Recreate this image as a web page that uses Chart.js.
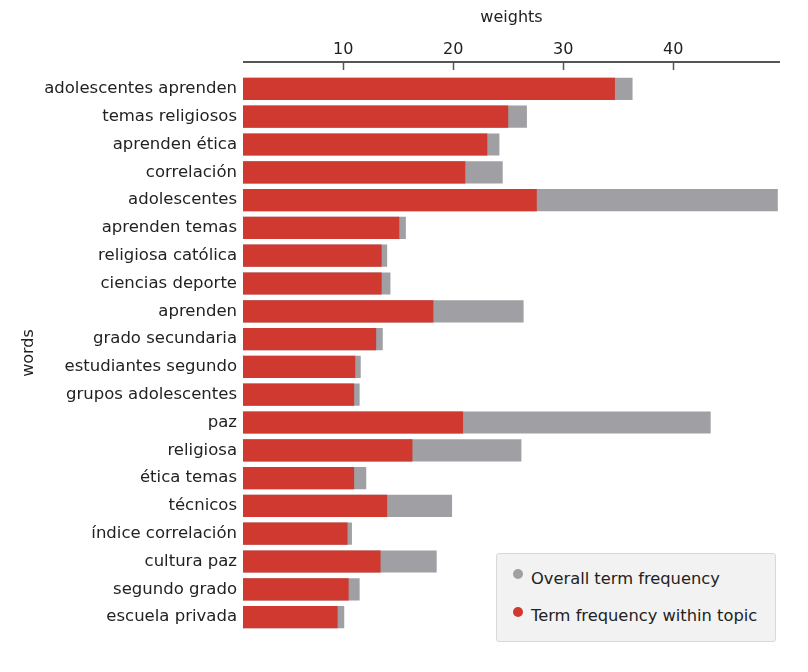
<!DOCTYPE html>
<html>
<head>
<meta charset="utf-8">
<script src="https://cdn.jsdelivr.net/npm/chart.js@4/dist/chart.umd.min.js"></script>
<style>
html,body{margin:0;padding:0;background:#fff;}
#wrap{position:relative;width:808px;height:672px;}
#legend{position:absolute;left:496px;top:553px;width:280px;height:89px;box-sizing:border-box;background:#f2f2f2;border:1px solid #d8d8d8;border-radius:3px;font-family:"DejaVu Sans",sans-serif;font-size:16.3px;color:#222;}
#legend .dot{position:absolute;left:16px;width:10px;height:10px;border-radius:50%;}
#legend .txt{position:absolute;left:34px;line-height:20px;white-space:nowrap;}
</style>
</head>
<body>
<div id="wrap">
  <canvas id="c" width="808" height="672"></canvas>
  <div id="legend"></div>
</div>
<script>
const words = [
  "adolescentes aprenden","temas religiosos","aprenden ética","correlación","adolescentes",
  "aprenden temas","religiosa católica","ciencias deporte","aprenden","grado secundaria",
  "estudiantes segundo","grupos adolescentes","paz","religiosa","ética temas",
  "técnicos","índice correlación","cultura paz","segundo grado","escuela privada"
];
const topicFreq = [34.7,25.0,23.1,21.1,27.6,15.1,13.5,13.5,18.2,13.0,11.1,11.0,20.9,16.3,11.0,14.0,10.4,13.4,10.5,9.5];
const overallFreq = [36.3,26.7,24.2,24.5,49.5,15.7,14.0,14.3,26.4,13.6,11.6,11.5,43.4,26.2,12.1,19.9,10.8,18.5,11.5,10.1];
const xTickValues = [10,20,30,40];
const xMin = 0.9;
const xMax = 49.7;
const seriesNames = ["Overall term frequency","Term frequency within topic"];
const RED = "#d0392f", GREY = "#a0a0a4";

Chart.defaults.font.family = '"DejaVu Sans", sans-serif';
Chart.defaults.font.size = 16;
Chart.defaults.color = "#222";

const topAxisLine = {
  id: "topAxisLine",
  afterDraw(chart) {
    const {ctx, chartArea: a, scales: {x}} = chart;
    const y = a.top - 13;
    ctx.save();
    ctx.strokeStyle = "#555";
    ctx.lineWidth = 2;
    ctx.beginPath();
    ctx.moveTo(a.left, y);
    ctx.lineTo(a.right, y);
    ctx.stroke();
    ctx.lineWidth = 1.5;
    ctx.beginPath();
    x.ticks.forEach(t => {
      const px = Math.round(x.getPixelForValue(t.value)) + 0.5;
      ctx.moveTo(px, y);
      ctx.lineTo(px, y + 8);
    });
    ctx.stroke();
    ctx.restore();
  }
};

new Chart(document.getElementById("c"), {
  type: "bar",
  data: {
    labels: words,
    datasets: [
      {label: seriesNames[1], data: topicFreq, backgroundColor: RED, grouped: false,
       categoryPercentage: 0.8, barPercentage: 1, clip: 0},
      {label: seriesNames[0], data: overallFreq, backgroundColor: GREY, grouped: false,
       categoryPercentage: 0.8, barPercentage: 1, clip: 0}
    ]
  },
  options: {
    indexAxis: "y",
    responsive: false,
    animation: false,
    layout: {padding: {top: 0, left: 0, right: 28, bottom: 41}},
    plugins: {legend: {display: false}, tooltip: {enabled: false}},
    scales: {
      x: {
        type: "linear",
        position: "top",
        min: xMin,
        max: xMax,
        afterBuildTicks: s => { s.ticks = xTickValues.map(v => ({value: v})); },
        afterFit: s => { s.height = 75; },
        grid: {display: false, drawTicks: false},
        border: {display: false},
        ticks: {padding: 16, color: "#222"},
        title: {display: true, text: "weights", color: "#222", padding: {top: 8, bottom: 0}}
      },
      y: {
        afterFit: s => { s.width = 243; },
        grid: {display: false, drawTicks: false},
        border: {display: false},
        ticks: {padding: 6, color: "#222", autoSkip: false, font: {size: 16.5}},
        title: {display: true, text: "words", color: "#222", padding: {top: 19, bottom: 0}}
      }
    }
  },
  plugins: [topAxisLine]
});

const legend = document.getElementById("legend");
[[seriesNames[0], GREY, 15, 15], [seriesNames[1], RED, 53, 52]].forEach(([name, col, dotTop, txtTop]) => {
  const d = document.createElement("div");
  d.className = "dot"; d.style.background = col; d.style.top = dotTop + "px";
  const t = document.createElement("div");
  t.className = "txt"; t.textContent = name; t.style.top = txtTop + "px";
  legend.appendChild(d); legend.appendChild(t);
});
</script>
</body>
</html>
